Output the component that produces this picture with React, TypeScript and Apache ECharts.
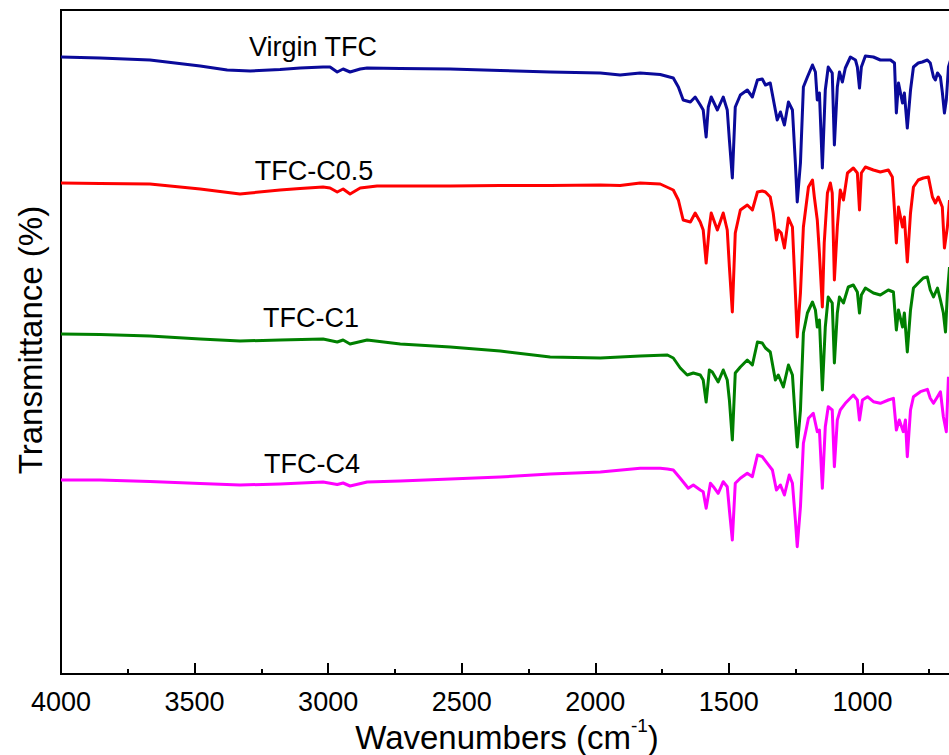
import React, { useEffect, useRef } from "react";
import * as echarts from "echarts";

// [wavenumber (cm-1), transmittance (arbitrary, offset units)]
const virginTFC: number[][] = [
  [4000, 617], [3854, 616], [3667, 614], [3479, 608], [3378, 604], [3292, 603], [3180, 604.5], [3105, 606],
  [3019, 607], [2993, 607], [2966, 602], [2944, 605], [2918, 602], [2880, 605], [2854, 606], [2730, 605.5],
  [2543, 605], [2356, 603.5], [2169, 602], [1981, 601], [1907, 599], [1870, 600], [1832, 601], [1757, 599.5],
  [1708, 596], [1689, 587], [1671, 574], [1644, 572], [1626, 577], [1607, 569], [1596, 564], [1585, 537],
  [1577, 567], [1566, 577], [1543, 564], [1521, 577], [1506, 564], [1498, 534], [1487, 496], [1476, 567],
  [1457, 579], [1431, 584], [1412, 577], [1393, 594], [1375, 595], [1363, 589], [1345, 591], [1326, 564],
  [1319, 554], [1307, 562], [1292, 549], [1277, 572], [1262, 564], [1251, 511], [1244, 472], [1232, 511],
  [1221, 587], [1206, 597], [1187, 609], [1176, 602], [1169, 574], [1161, 581], [1150, 506], [1139, 584],
  [1128, 607], [1113, 601], [1105, 529], [1094, 587], [1086, 602], [1075, 592], [1064, 606], [1045, 617],
  [1026, 614], [1019, 607], [1011, 586], [1004, 607], [989, 618], [959, 617], [933, 614], [895, 614],
  [880, 611], [873, 561], [865, 591], [850, 571], [843, 581], [832, 546], [820, 584], [809, 607],
  [791, 611], [776, 612], [757, 614], [746, 611], [734, 597], [727, 594], [719, 601], [708, 597],
  [701, 582], [693, 561], [686, 574], [678, 607], [670, 614],
];

const tfcC05: number[][] = [
  [4000, 491], [3854, 490.5], [3667, 490], [3479, 485], [3330, 480], [3292, 481], [3180, 484], [3105, 485.5],
  [3019, 487], [2993, 486], [2966, 482], [2944, 485], [2918, 480], [2880, 486], [2817, 488], [2730, 488],
  [2543, 488], [2356, 488.5], [2169, 488.5], [1981, 489], [1907, 488.5], [1832, 491], [1757, 490], [1708, 484],
  [1689, 474], [1671, 454], [1644, 452], [1626, 461], [1607, 452], [1596, 444], [1585, 411], [1573, 447],
  [1566, 461], [1543, 444], [1521, 461], [1506, 444], [1498, 407], [1487, 362], [1476, 441], [1457, 464],
  [1431, 469], [1412, 464], [1393, 482], [1375, 483], [1363, 482], [1345, 477], [1334, 461], [1322, 434],
  [1315, 444], [1304, 441], [1292, 426], [1277, 456], [1262, 447], [1251, 381], [1244, 337], [1232, 381],
  [1221, 447], [1202, 487], [1187, 494], [1180, 477], [1169, 454], [1161, 421], [1150, 367], [1143, 431],
  [1131, 481], [1120, 491], [1113, 481], [1105, 394], [1094, 447], [1083, 484], [1071, 474], [1056, 501],
  [1034, 506], [1019, 501], [1011, 464], [1004, 501], [989, 507], [959, 504], [933, 502], [903, 504],
  [888, 497], [880, 464], [873, 431], [865, 467], [850, 447], [843, 457], [832, 412], [820, 461],
  [809, 487], [791, 494], [772, 496], [753, 497], [738, 477], [727, 471], [716, 477], [701, 467],
  [693, 426], [682, 447], [674, 474],
];

const tfcC1: number[][] = [
  [4000, 340], [3854, 339.5], [3667, 338], [3479, 335], [3330, 333], [3180, 334], [3019, 335], [2966, 332],
  [2944, 334], [2918, 330], [2854, 334], [2730, 330], [2543, 327], [2356, 323], [2169, 317], [1981, 316],
  [1907, 317], [1832, 318], [1730, 319], [1708, 316], [1682, 306], [1656, 299], [1633, 301], [1607, 299],
  [1596, 294], [1585, 272], [1573, 304], [1562, 302], [1540, 292], [1521, 304], [1506, 294], [1498, 274],
  [1487, 234], [1476, 301], [1457, 307], [1431, 314], [1412, 309], [1393, 332], [1375, 331], [1363, 326],
  [1345, 322], [1326, 294], [1315, 299], [1296, 287], [1277, 309], [1262, 299], [1251, 254], [1244, 227],
  [1232, 264], [1221, 341], [1206, 361], [1187, 372], [1176, 364], [1169, 347], [1161, 354], [1150, 284],
  [1139, 347], [1128, 377], [1113, 371], [1105, 311], [1094, 361], [1086, 377], [1071, 371], [1053, 387],
  [1034, 389], [1019, 382], [1011, 361], [1004, 379], [989, 386], [959, 381], [933, 379], [903, 384],
  [884, 382], [873, 344], [865, 364], [850, 347], [843, 361], [832, 322], [820, 364], [809, 386],
  [791, 391], [772, 396], [757, 397], [746, 384], [734, 377], [719, 386], [708, 374], [697, 361],
  [689, 342], [682, 381], [674, 407],
];

const tfcC4: number[][] = [
  [4000, 194], [3854, 194], [3667, 192.5], [3479, 190.5], [3330, 189], [3180, 190], [3019, 192], [2966, 189.5],
  [2944, 191], [2918, 188], [2854, 192], [2730, 193], [2543, 195], [2356, 197], [2169, 200], [1981, 202],
  [1832, 205.7], [1757, 205.7], [1730, 205], [1708, 204], [1682, 195.7], [1652, 185.7], [1633, 189], [1607, 184],
  [1596, 182.3], [1585, 165.7], [1569, 190.7], [1558, 187.3], [1540, 180.7], [1521, 192.3], [1506, 187.3], [1498, 164],
  [1487, 134], [1476, 190.7], [1457, 195.7], [1431, 200.7], [1412, 197.3], [1393, 219], [1375, 217.3], [1356, 210.7],
  [1337, 204], [1322, 184], [1307, 189], [1292, 179], [1274, 199], [1262, 190.7], [1251, 154], [1244, 127.3],
  [1232, 167.3], [1221, 230.7], [1202, 255.7], [1184, 260.7], [1169, 242.3], [1161, 244], [1150, 185.7], [1139, 247.3],
  [1128, 267.3], [1113, 264], [1105, 207.3], [1094, 254], [1083, 264], [1064, 270.7], [1034, 279], [1019, 274],
  [1011, 254], [1000, 274], [981, 277.3], [959, 272.3], [933, 270.7], [903, 274], [884, 275.7], [873, 244],
  [862, 254], [847, 242.3], [839, 254], [832, 217.3], [820, 264], [809, 277.3], [783, 282.3], [757, 284.7],
  [746, 275.7], [734, 270.7], [719, 277.3], [708, 282.3], [697, 257.3], [686, 242.3], [678, 297.3],
];

const seriesNames = ["Virgin TFC", "TFC-C0.5", "TFC-C1", "TFC-C4"];
const seriesColors = ["#0a0a9a", "#ff0000", "#008000", "#ff00ff"];
const seriesData = [virginTFC, tfcC05, tfcC1, tfcC4];
const xTickInterval = 500;
const xMin = 500;
const xMax = 4000;

const FONT = "'Liberation Sans', Arial, Helvetica, sans-serif";

export default function App() {
  const ref = useRef<HTMLDivElement>(null);
  useEffect(() => {
    document.body.style.margin = "0";
    document.body.style.overflow = "hidden";
    const chart = echarts.init(ref.current!, null, { renderer: "svg" });
    const labelPos = [
      [313, 47],
      [314, 171],
      [311, 318],
      [312, 464],
    ];
    chart.setOption({
      animation: false,
      backgroundColor: "#ffffff",
      grid: {
        left: 61,
        right: 0,
        top: 10,
        bottom: 81,
        containLabel: false,
        outerBoundsMode: "none",
        show: true,
        borderColor: "#000",
        borderWidth: 2,
        backgroundColor: "transparent",
      },
      xAxis: {
        type: "value",
        inverse: true,
        min: xMin,
        max: xMax,
        interval: xTickInterval,
        axisLine: { show: true, onZero: false, lineStyle: { color: "#000", width: 2 } },
        axisTick: { show: true, inside: true, length: 11, lineStyle: { color: "#000", width: 2 } },
        minorTick: { show: true, splitNumber: 2, length: 5, lineStyle: { color: "#000", width: 2 } },
        axisLabel: {
          color: "#000",
          fontSize: 27,
          fontFamily: FONT,
          margin: 14,
          formatter: (v: number) => (v < 900 ? "" : String(v)),
        },
        splitLine: { show: false },
        minorSplitLine: { show: false },
      },
      yAxis: {
        type: "value",
        min: 0,
        max: 664,
        axisLine: { show: true, lineStyle: { color: "#000", width: 2 } },
        axisTick: { show: false },
        axisLabel: { show: false },
        splitLine: { show: false },
      },
      series: seriesData.map((d, i) => ({
        name: seriesNames[i],
        type: "line",
        data: d,
        showSymbol: false,
        symbol: "none",
        smooth: false,
        clip: true,
        lineStyle: { color: seriesColors[i], width: 3, join: "round" },
      })),
      graphic: [
        ...seriesNames.map((n, i) => ({
          type: "text",
          x: labelPos[i][0],
          y: labelPos[i][1],
          style: {
            text: n,
            fill: "#000",
            fontSize: 27,
            fontFamily: FONT,
            align: "center",
            verticalAlign: "middle",
            textAlign: "center",
            textVerticalAlign: "middle",
          },
        })),
        {
          type: "text",
          x: 507,
          y: 735,
          style: {
            text: "{a|Wavenumbers (cm}{s|-1}{a|)}",
            fill: "#000",
            fontFamily: FONT,
            align: "center",
            verticalAlign: "middle",
            textAlign: "center",
            textVerticalAlign: "middle",
            rich: {
              a: { fontSize: 33, fontFamily: FONT, fill: "#000", lineHeight: 38, verticalAlign: "bottom" },
              s: { fontSize: 19, fontFamily: FONT, fill: "#000", lineHeight: 38, verticalAlign: "top" },
            },
          },
        },
        {
          type: "text",
          x: 30,
          y: 340,
          rotation: Math.PI / 2,
          style: {
            text: "Transmittance (%)",
            fill: "#000",
            fontSize: 33,
            fontFamily: FONT,
            align: "center",
            verticalAlign: "middle",
            textAlign: "center",
            textVerticalAlign: "middle",
          },
        },
      ],
    });
    return () => chart.dispose();
  }, []);
  return (
    <div
      ref={ref}
      style={{ position: "fixed", left: 0, top: 0, width: 996, height: 755 }}
    />
  );
}
